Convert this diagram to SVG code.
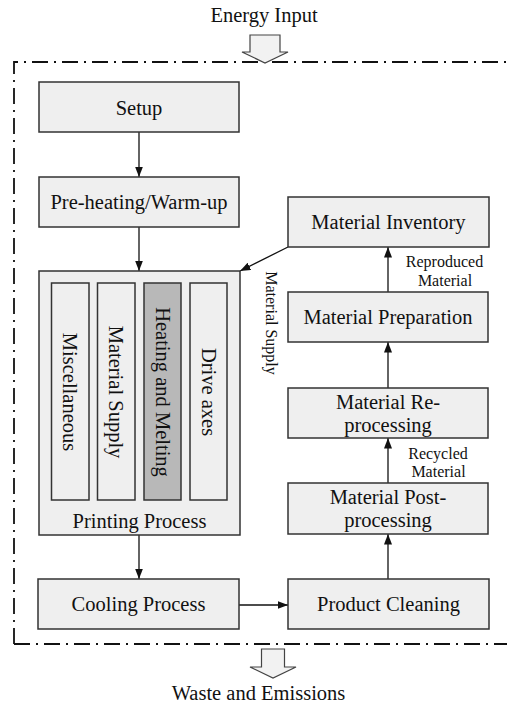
<svg xmlns="http://www.w3.org/2000/svg" width="507" height="706" viewBox="0 0 507 706">
<defs>
<style>
.box{fill:#efefef;stroke:#333;stroke-width:1.5}
.dark{fill:#b8b8b8;stroke:#333;stroke-width:1.5}
.t{font-family:"Liberation Serif","Times New Roman",serif;font-size:20.5px;fill:#111;text-anchor:middle}
.s{font-family:"Liberation Serif","Times New Roman",serif;font-size:16px;fill:#111;text-anchor:middle}
.c{stroke:#111;stroke-width:1.3;fill:none;marker-end:url(#ah)}
.frame{fill:none;stroke:#111;stroke-width:1.8;stroke-dasharray:16 6 2 6}
.block{fill:#f2f2f2;stroke:#444;stroke-width:1.2}
</style>
<marker id="ah" markerUnits="userSpaceOnUse" markerWidth="11" markerHeight="9" refX="10.5" refY="4" orient="auto">
<path d="M0,0 L10.5,4 L0,8 z" fill="#111"/>
</marker>
</defs>
<rect x="0" y="0" width="507" height="706" fill="#fff"/>

<g id="frame">
<path class="frame" d="M14,644 V62 H507"/>
<path class="frame" d="M14,644 H507"/>
</g>

<g id="energy-input">
<text class="t" x="264" y="22">Energy Input</text>
<path class="block" d="M250,35 H280 V52 H288 L265,63 L242,52 H250 Z"/>
</g>

<g id="waste">
<path class="block" d="M261.5,649 H284.5 V667 H296 L273,678 L250,667 H261.5 Z"/>
<text class="t" x="258.5" y="700">Waste and Emissions</text>
</g>

<g id="connectors">
<line class="c" x1="139" y1="132" x2="139" y2="177"/>
<line class="c" x1="139" y1="227" x2="139" y2="271"/>
<line class="c" x1="139" y1="535" x2="139" y2="579"/>
<line class="c" x1="239" y1="605" x2="288" y2="605"/>
<line class="c" x1="388" y1="579" x2="388" y2="534"/>
<line class="c" x1="388" y1="483" x2="388" y2="438"/>
<line class="c" x1="388" y1="388" x2="388" y2="342"/>
<line class="c" x1="388" y1="292" x2="388" y2="247"/>
<line class="c" x1="288" y1="247" x2="240" y2="271"/>
<text class="s" x="444.5" y="267">Reproduced</text>
<text class="s" x="445" y="286">Material</text>
<text class="s" x="438" y="459">Recycled</text>
<text class="s" x="438.5" y="477">Material</text>
<text class="s" transform="translate(271,323) rotate(90)" x="0" y="5.5">Material Supply</text>
</g>

<g id="setup">
<rect class="box" x="39" y="82" width="200" height="50"/>
<text class="t" x="139" y="114.5">Setup</text>
</g>

<g id="preheating">
<rect class="box" x="39" y="177" width="200" height="50"/>
<text class="t" x="139" y="209">Pre-heating/Warm-up</text>
</g>

<g id="printing-process">
<rect class="box" x="39" y="271" width="201" height="264"/>
<rect class="box" x="51.5" y="283" width="37.5" height="217"/>
<text class="t" transform="translate(70,392) rotate(90)" x="0" y="7">Miscellaneous</text>
<rect class="box" x="97.5" y="283" width="37.5" height="217"/>
<text class="t" transform="translate(116,392) rotate(90)" x="0" y="7">Material Supply</text>
<rect class="dark" x="144" y="283" width="37" height="217"/>
<text class="t" transform="translate(162.5,392) rotate(90)" x="0" y="7">Heating and Melting</text>
<rect class="box" x="190" y="283" width="37" height="217"/>
<text class="t" transform="translate(208.5,392) rotate(90)" x="0" y="7">Drive axes</text>
<text class="t" x="139.5" y="528">Printing Process</text>
</g>

<g id="cooling">
<rect class="box" x="38" y="579" width="201" height="50"/>
<text class="t" x="138.5" y="611">Cooling Process</text>
</g>

<g id="product-cleaning">
<rect class="box" x="288" y="579" width="201" height="50"/>
<text class="t" x="388.5" y="611">Product Cleaning</text>
</g>

<g id="post-processing">
<rect class="box" x="288" y="483" width="200" height="51"/>
<text class="t" x="388" y="504">Material Post-</text>
<text class="t" x="388" y="527">processing</text>
</g>

<g id="re-processing">
<rect class="box" x="288" y="388" width="200" height="50"/>
<text class="t" x="388" y="409">Material Re-</text>
<text class="t" x="388" y="432">processing</text>
</g>

<g id="preparation">
<rect class="box" x="288" y="292" width="200" height="50"/>
<text class="t" x="388" y="324">Material Preparation</text>
</g>

<g id="inventory">
<rect class="box" x="288" y="197" width="201" height="50"/>
<text class="t" x="388.5" y="229">Material Inventory</text>
</g>
</svg>
